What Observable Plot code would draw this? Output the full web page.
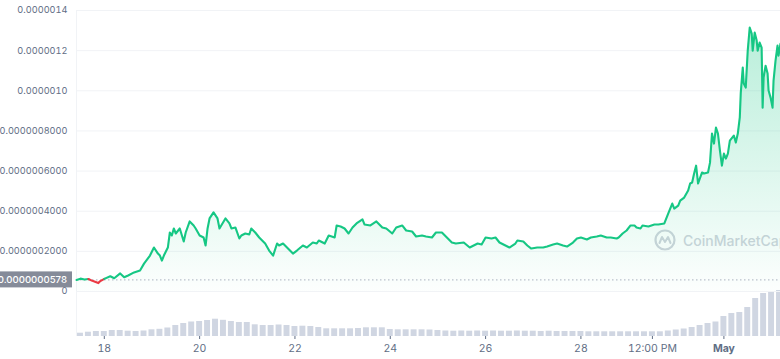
<!DOCTYPE html>
<html>
<head>
<meta charset="utf-8">
<script src="https://cdn.jsdelivr.net/npm/d3@7"></script>
<script src="https://cdn.jsdelivr.net/npm/@observablehq/plot@0.6"></script>
<style>
  html, body { margin: 0; padding: 0; background: #fff; }
  #chart { position: relative; width: 780px; height: 359px; overflow: hidden; background: #fff; font-family: Inter, "Noto Sans", sans-serif; }
  #chart > * { position: absolute; left: 0; }
</style>
</head>
<body>
<div id="chart"></div>
<script>
// ---- Data (prices in units of 1e-8 USD) ----
const priceTimes = [
"04-17T10:00","04-17T12:00","04-17T14:00","04-17T16:00","04-17T18:00","04-17T19:00","04-17T21:00","04-17T22:00",
"04-18T00:00","04-18T03:00","04-18T05:00","04-18T08:00","04-18T10:00","04-18T12:00","04-18T15:00","04-18T18:00","04-18T20:00","04-18T23:00",
"04-19T01:00","04-19T03:00","04-19T04:00","04-19T05:00","04-19T06:00","04-19T08:00","04-19T09:00","04-19T10:00","04-19T11:00","04-19T12:00","04-19T14:00","04-19T16:00","04-19T17:00","04-19T19:00","04-19T21:00","04-19T22:00",
"04-20T00:00","04-20T02:00","04-20T03:00","04-20T04:00","04-20T05:00","04-20T07:00","04-20T09:00","04-20T10:00","04-20T13:00","04-20T15:00","04-20T16:00","04-20T18:00","04-20T20:00","04-20T21:00","04-20T23:00",
"04-21T01:00","04-21T02:00","04-21T04:00","04-21T06:00","04-21T09:00","04-21T11:00","04-21T13:00","04-21T15:00","04-21T16:00","04-21T18:00","04-21T20:00","04-21T23:00",
"04-22T01:00","04-22T04:00","04-22T06:00","04-22T09:00","04-22T11:00","04-22T12:00","04-22T15:00","04-22T17:00","04-22T20:00","04-22T21:00","04-22T23:00",
"04-23T01:00","04-23T03:00","04-23T05:00","04-23T07:00","04-23T10:00","04-23T11:00","04-23T14:00","04-23T17:00","04-23T20:00","04-23T22:00",
"04-24T01:00","04-24T03:00","04-24T06:00","04-24T08:00","04-24T11:00","04-24T13:00","04-24T16:00","04-24T18:00","04-24T21:00","04-24T23:00",
"04-25T02:00","04-25T05:00","04-25T07:00","04-25T09:00","04-25T13:00","04-25T16:00","04-25T18:00","04-25T20:00","04-25T22:00",
"04-26T00:00","04-26T03:00","04-26T05:00","04-26T07:00","04-26T10:00","04-26T12:00","04-26T15:00","04-26T16:00","04-26T19:00","04-26T21:00","04-26T23:00",
"04-27T02:00","04-27T05:00","04-27T07:00","04-27T10:00","04-27T12:00","04-27T15:00","04-27T17:00","04-27T20:00","04-27T22:00",
"04-28T00:00","04-28T03:00","04-28T05:00","04-28T08:00","04-28T10:00","04-28T13:00","04-28T15:00","04-28T18:00","04-28T19:00","04-28T21:00","04-28T23:00",
"04-29T01:00","04-29T03:00","04-29T04:00","04-29T06:00","04-29T07:00","04-29T10:00","04-29T13:00","04-29T15:00","04-29T18:00","04-29T20:00","04-29T22:00","04-29T23:00",
"04-30T01:00","04-30T02:00","04-30T04:00","04-30T06:00","04-30T07:00","04-30T08:00","04-30T09:00","04-30T10:00","04-30T11:00","04-30T13:00","04-30T14:00","04-30T16:00","04-30T17:00","04-30T18:00","04-30T19:00","04-30T20:00","04-30T21:00","04-30T22:00","04-30T23:00",
"05-01T00:00","05-01T01:00","05-01T02:00","05-01T03:00","05-01T05:00","05-01T06:00","05-01T07:00","05-01T08:00","05-01T08:30","05-01T09:30","05-01T10:00","05-01T11:00","05-01T12:00","05-01T13:00","05-01T14:00","05-01T14:30","05-01T15:30","05-01T16:30","05-01T17:00","05-01T18:00","05-01T19:00","05-01T19:30","05-01T20:00","05-01T21:00","05-01T22:00","05-01T22:30","05-01T23:30",
"05-02T00:30","05-02T01:00","05-02T02:00","05-02T03:00","05-02T03:30","05-02T04:30"
];
const priceValues = [
5.78,6.4,6.0,6.2,5.3,5.0,4.2,5.2,
6.3,7.6,6.6,9.0,7.1,8.0,9.5,10.5,13.9,17.9,
21.9,18.9,17.9,15.4,17.9,21.9,29.4,27.9,31.4,28.9,31.4,24.9,29.4,34.9,32.9,31.4,
27.9,26.9,22.9,31.4,36.4,39.4,36.4,31.4,36.4,33.9,31.4,31.9,26.4,27.9,28.9,
28.4,31.4,29.4,26.9,23.9,20.4,17.9,23.9,22.9,23.9,21.9,18.9,
20.4,22.9,21.9,24.4,23.9,25.4,23.9,27.9,26.9,32.9,32.4,
31.4,28.9,31.9,33.9,35.9,33.4,32.9,34.9,31.9,31.4,
28.9,31.9,32.9,30.4,29.9,27.4,27.9,27.4,26.9,29.4,
29.4,26.4,24.4,23.9,24.4,21.9,22.9,23.9,23.4,
26.9,26.4,26.9,24.4,22.9,21.9,23.9,25.4,24.9,22.9,21.4,
21.9,21.9,22.4,23.4,23.9,22.9,22.4,24.4,26.4,
26.9,25.9,26.9,27.4,27.9,26.9,26.9,26.4,26.9,28.9,30.4,
32.9,32.9,31.9,31.4,32.9,32.4,33.4,33.4,33.9,38.9,43.8,41.3,
42.8,45.3,46.8,50.3,53.8,54.3,58.8,62.7,53.8,59.3,58.8,59.3,64.2,78.7,73.7,81.7,78.7,70.2,62.7,
68.7,66.2,68.7,75.2,77.7,74.2,78.7,86.7,99.1,111.6,103.6,101.6,120.0,131.5,128.5,120.0,129.0,125.0,120.0,124.0,121.5,91.6,106.6,112.5,108.6,100.1,96.6,
91.6,105.1,115.0,122.5,117.5,123.5
];
const basePrice = 5.78;               // opening price of the period (1e-8 USD)
const basePriceLabel = "0.0000000578";

// Volume bars: one every 4 hours starting at volumeStart (arbitrary units)
const volumeStart = "2021-04-17T10:00Z";
const volumeValues = [
3.3,4.3,5,5,6,6,5.3,5,5.5,6.7,
7.2,8.5,11,13,14.5,15,16,17.3,16.2,15,
14,14,11.7,11,11,11.5,11,10,10.3,10,
9,7.7,7.7,7.7,7.7,8,8.7,8.7,8.7,7,
6.7,6.7,6.7,6.7,6.5,6,5.5,5.3,5.5,5.3,
5.5,5.3,5.5,5.3,5.3,5.5,5.3,5.3,5,5.3,
5,5,5,5,4.7,4.7,4.7,4.7,4.7,4.7,
4.7,4.7,4.7,4.7,5.5,6.5,7.5,9,11,13,
14.5,20,23,24,29,38,43,44,46
];

const yTicks = [0, 20, 40, 60, 80, 100, 120, 140];
const yTickLabels = ["0","0.0000002000","0.0000004000","0.0000006000","0.0000008000","0.0000010","0.0000012","0.0000014"];
const xTickTimes = ["2021-04-18T00:00Z","2021-04-20T00:00Z","2021-04-22T00:00Z","2021-04-24T00:00Z","2021-04-26T00:00Z","2021-04-28T00:00Z","2021-04-29T12:00Z","2021-05-01T00:00Z"];
const xTickLabels = ["18","20","22","24","26","28","12:00 PM","May"];

// ---- Build tables ----
const prices = priceTimes.map((s, i) => ({t: new Date(`2021-${s}Z`), v: priceValues[i]}));
const HOUR = 3600e3;
const v0 = new Date(volumeStart);
const volumes = volumeValues.map((v, i) => ({t1: new Date(+v0 + i * 4 * HOUR), t2: new Date(+v0 + (i + 1) * 4 * HOUR), v}));
const xDomain = d3.extent(prices, d => d.t);
const xTicks = xTickTimes.map(s => new Date(s));
const xLabelMap = new Map(xTicks.map((d, i) => [+d, xTickLabels[i]]));
const yLabelMap = new Map(yTicks.map((d, i) => [d, yTickLabels[i]]));

const GREEN = "#16c784", RED = "#ea3943";
// split the line into coloured runs (red where below the opening price)
const segs = [];
for (let i = 1; i < prices.length; i++) {
  const a = prices[i - 1], b = prices[i];
  const c = (a.v < basePrice || b.v < basePrice) ? RED : GREEN;
  let last = segs[segs.length - 1];
  if (!last || last.color !== c) { last = {color: c, pts: [a]}; segs.push(last); }
  last.pts.push(b);
}
const lineRows = segs.flatMap((s, k) => s.pts.map(p => ({t: p.t, v: p.v, z: k, c: s.color})));

const FONT = "Inter, 'Noto Sans', sans-serif";
const AXIS_COLOR = "#616e85";
const GRID = "#f1f3f6";

const chart = document.getElementById("chart");

// Volume plot (bottom)
const volPlot = Plot.plot({
  width: 780, height: 79,
  marginLeft: 76, marginRight: 0, marginTop: 8, marginBottom: 23,
  style: {background: "transparent", fontFamily: FONT, fontSize: "10.5px", color: AXIS_COLOR, overflow: "visible"},
  x: {type: "utc", domain: xDomain, ticks: xTicks, tickFormat: d => xLabelMap.get(+d) ?? "", tickSize: 3, tickPadding: 5, label: null},
  y: {domain: [0, 48], axis: null, label: null},
  marks: [
    Plot.ruleX([xDomain[0]], {stroke: GRID}),
    Plot.rectY(volumes, {x1: "t1", x2: "t2", y: "v", fill: "#d0d6e2", insetLeft: 1, insetRight: 1})
  ]
});
volPlot.style.top = "280px";
d3.select(volPlot).selectAll("text").filter(function() { return this.textContent === "May"; }).attr("font-weight", "bold");
chart.appendChild(volPlot);

// Watermark (decoration)
const wm = document.createElement("div");
wm.style.top = "228px"; wm.style.left = "654px";
wm.innerHTML = `<svg width="140" height="24" style="overflow:visible">
  <circle cx="11" cy="12" r="9.5" fill="none" stroke="#cfd4dc" stroke-width="2.2"/>
  <path d="M5.5 15 L8 9 L11 14 L14 9 L16.5 15" fill="none" stroke="#cfd4dc" stroke-width="2" stroke-linejoin="round" stroke-linecap="round"/>
  <text x="29" y="17.5" font-family="${FONT}" font-size="14" font-weight="500" fill="#cfd4dc">CoinMarketCap</text>
</svg>`;
chart.appendChild(wm);

// Price plot (top)
const defsMark = () => {
  const defs = d3.create("svg:defs");
  const g = defs.append("linearGradient").attr("id", "cmcFill").attr("gradientUnits", "userSpaceOnUse")
    .attr("x1", 0).attr("x2", 0).attr("y1", 10).attr("y2", 291);
  g.append("stop").attr("offset", 0).attr("stop-color", GREEN).attr("stop-opacity", 0.32);
  g.append("stop").attr("offset", 1).attr("stop-color", GREEN).attr("stop-opacity", 0.01);
  return defs.node();
};
const baseLabelMark = (index, scales) => {
  const y = scales.y(basePrice);
  const g = d3.create("svg:g");
  g.append("rect").attr("x", 0).attr("y", y - 8).attr("width", 72).attr("height", 16).attr("fill", "#858b99");
  g.append("text").attr("x", 67).attr("y", y).attr("dy", "0.36em").attr("text-anchor", "end")
    .attr("fill", "#fff").attr("font-size", 9.6).attr("font-weight", 500).text(basePriceLabel);
  return g.node();
};

const pricePlot = Plot.plot({
  width: 780, height: 300,
  marginLeft: 76, marginRight: 0, marginTop: 10, marginBottom: 9,
  style: {background: "transparent", fontFamily: FONT, fontSize: "9.2px", color: AXIS_COLOR, overflow: "visible"},
  x: {type: "utc", domain: xDomain, axis: null, label: null},
  y: {domain: [0, 140], ticks: yTicks, tickFormat: d => yLabelMap.get(d), tickSize: 0, tickPadding: 9, label: null},
  marks: [
    defsMark,
    Plot.ruleY(yTicks, {stroke: GRID}),
    Plot.ruleX([xDomain[0]], {stroke: GRID}),
    Plot.areaY(prices, {x: "t", y: "v", fill: "url(#cmcFill)"}),
    Plot.ruleY([basePrice], {stroke: "#aab2c0", strokeDasharray: "1.5,2.5"}),
    Plot.line(lineRows, {x: "t", y: "v", z: "z", stroke: "c", strokeWidth: 2.1, strokeLinejoin: "round"}),
    baseLabelMark
  ]
});
pricePlot.style.top = "0px";
chart.appendChild(pricePlot);
</script>
</body>
</html>
